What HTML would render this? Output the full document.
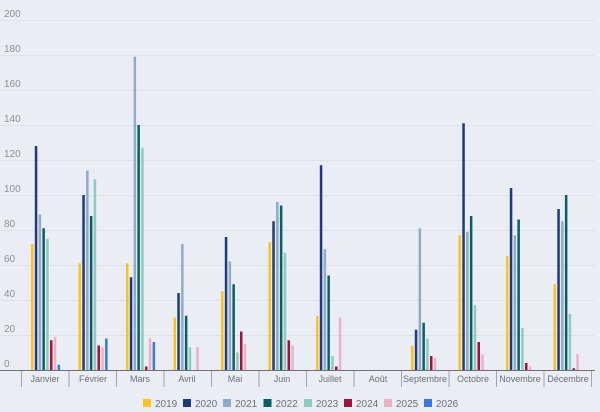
<!DOCTYPE html>
<html><head><meta charset="utf-8"><style>
html,body{margin:0;padding:0;background:#eaedf4;}
svg{display:block;font-family:"Liberation Sans",sans-serif;}
</style></head><body>
<svg id="c" width="600" height="412" viewBox="0 0 600 412" xmlns="http://www.w3.org/2000/svg">
<rect width="600" height="412" fill="#eaedf4"/>
<g stroke="#dde1ea" stroke-width="1">
<line x1="0" x2="595" y1="20.5" y2="20.5"/><line x1="0" x2="595" y1="55.5" y2="55.5"/>
<line x1="0" x2="595" y1="90.5" y2="90.5"/><line x1="0" x2="595" y1="125.5" y2="125.5"/>
<line x1="0" x2="595" y1="160.5" y2="160.5"/><line x1="0" x2="595" y1="195.5" y2="195.5"/>
<line x1="0" x2="595" y1="230.5" y2="230.5"/><line x1="0" x2="595" y1="265.5" y2="265.5"/>
<line x1="0" x2="595" y1="300.5" y2="300.5"/><line x1="0" x2="595" y1="335.5" y2="335.5"/>
</g>
<g fill="#8a8f99" font-size="10">
<text x="4" y="17">200</text><text x="4" y="52">180</text><text x="4" y="87">160</text>
<text x="4" y="122">140</text><text x="4" y="157">120</text><text x="4" y="192">100</text>
<text x="4" y="227">80</text><text x="4" y="262">60</text><text x="4" y="297">40</text>
<text x="4" y="332">20</text><text x="4" y="367">0</text>
</g>
<g id="bars"></g>
<line x1="0" x2="595" y1="370.5" y2="370.5" stroke="#6b6f78" stroke-width="1"/>
<g stroke="#a0a4ad" stroke-width="1">
<line x1="21.5" x2="21.5" y1="371" y2="387"/><line x1="69" x2="69" y1="371" y2="387"/>
<line x1="116.5" x2="116.5" y1="371" y2="387"/><line x1="164" x2="164" y1="371" y2="387"/>
<line x1="211.5" x2="211.5" y1="371" y2="387"/><line x1="259" x2="259" y1="371" y2="387"/>
<line x1="306.5" x2="306.5" y1="371" y2="387"/><line x1="354" x2="354" y1="371" y2="387"/>
<line x1="401.5" x2="401.5" y1="371" y2="387"/><line x1="449" x2="449" y1="371" y2="387"/>
<line x1="496.5" x2="496.5" y1="371" y2="387"/><line x1="544" x2="544" y1="371" y2="387"/>
<line x1="591.5" x2="591.5" y1="371" y2="387"/>
</g>
<g fill="#6b6f78" font-size="9" text-anchor="middle">
<text x="45" y="382">Janvier</text><text x="93" y="382">Février</text><text x="140" y="382">Mars</text>
<text x="187" y="382">Avril</text><text x="235" y="382">Mai</text><text x="282" y="382">Juin</text>
<text x="330" y="382">Juillet</text><text x="378" y="382">Août</text><text x="425" y="382">Septembre</text>
<text x="473" y="382">Octobre</text><text x="520" y="382">Novembre</text><text x="568" y="382">Décembre</text>
</g>
<g font-size="10" fill="#6b6f78">
<rect x="143" y="399" width="8" height="8" fill="#fbc41c"/><text x="155" y="407">2019</text>
<rect x="183" y="399" width="8" height="8" fill="#1f3a7a"/><text x="195" y="407">2020</text>
<rect x="223" y="399" width="8" height="8" fill="#8eabc9"/><text x="235" y="407">2021</text>
<rect x="263.5" y="399" width="8" height="8" fill="#0b5f62"/><text x="275.5" y="407">2022</text>
<rect x="304" y="399" width="8" height="8" fill="#8ccbbd"/><text x="316" y="407">2023</text>
<rect x="344" y="399" width="8" height="8" fill="#a3123f"/><text x="356" y="407">2024</text>
<rect x="384" y="399" width="8" height="8" fill="#e8b4c4"/><text x="396" y="407">2025</text>
<rect x="424" y="399" width="8" height="8" fill="#3b77d8"/><text x="436" y="407">2026</text>
</g>
</svg>
<script>
var cols=["#fbc41c","#1f3a7a","#8eabc9","#0b5f62","#8ccbbd","#a3123f","#e8b4c4","#3b77d8"];
var d=[[72,128,89,81,75,17,19,3],[61,100,114,88,109,14,13,18],[61,53,179,140,127,2,18,16],
[30,44,72,31,13,0,13,0],[45,76,62,49,10,22,15,0],[73,85,96,94,67,17,14,0],
[31,117,69,54,8,2,30,0],[0,0,0,0,0,0,0,0],[14,23,81,27,18,8,7,0],
[77,141,79,88,37,16,9,0],[65,104,77,86,24,4,2,0],[49,92,85,100,32,1,9,0]];
var g=document.getElementById("bars"),s="";
for(var i=0;i<12;i++){var x0=21.5+i*47.5+9.5;for(var j=0;j<8;j++){var v=d[i][j];if(!v)continue;var h=v*1.75;
s+='<rect x="'+(x0+j*3.8)+'" y="'+(370-h)+'" width="2.5" height="'+h+'" fill="'+cols[j]+'"/>';}}
g.innerHTML=s;
</script>
</body></html>
